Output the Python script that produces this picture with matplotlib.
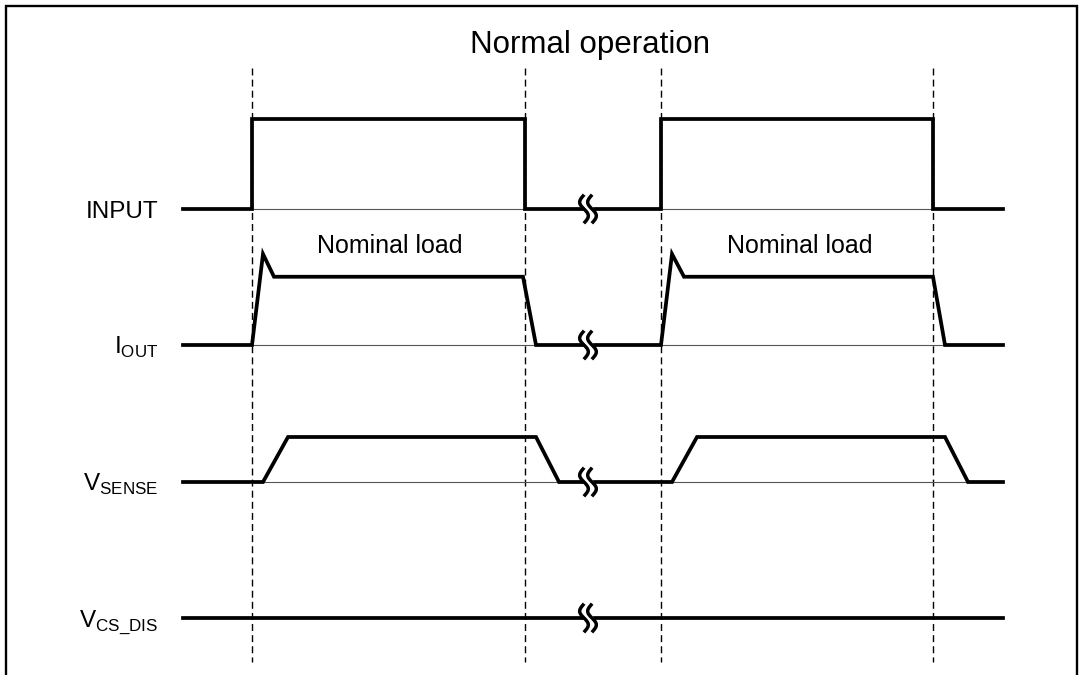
import matplotlib.pyplot as plt
import numpy as np

plt.rcParams['font.family'] = ['Liberation Sans', 'DejaVu Sans']
plt.rcParams['mathtext.fontset'] = 'custom'
plt.rcParams['mathtext.rm'] = 'Liberation Sans'

# signal names (drawn top to bottom) and their baseline positions
labels = [r'INPUT', r'$\mathrm{I}_{\mathrm{OUT}}$',
          r'$\mathrm{V}_{\mathrm{SENSE}}$', r'$\mathrm{V}_{\mathrm{CS\_DIS}}$']
baselines = [209, 345, 482, 618]

# waveforms: time breakpoints and relative level (0 = low, 1 = peak)
input_t = [183, 252, 252, 525, 525, 661, 661, 933, 933, 1003]
input_v = [0, 0, 1, 1, 0, 0, 1, 1, 0, 0]
input_amp = 90

iout_t = [183, 252, 263, 274, 523, 536, 661, 672, 684, 933, 945, 1003]
iout_v = [0, 0, 1, 0.75, 0.75, 0, 0, 1, 0.75, 0.75, 0, 0]
iout_amp = 91

vsense_t = [183, 263, 288, 536, 559, 672, 697, 945, 968, 1003]
vsense_v = [0, 0, 1, 1, 0, 0, 1, 1, 0, 0]
vsense_amp = 45

vcs_t = [183, 1003]
vcs_v = [0, 0]
vcs_amp = 0

# pulse intervals (thin reference line under each pulse)
input_pulses = [(252, 525), (661, 933)]
iout_pulses = [(252, 536), (661, 945)]
vsense_pulses = [(263, 559), (672, 968)]

# timing markers and break position
markers = [252, 525, 661, 933]
break_x = 588

title = 'Normal operation'
load_text = 'Nominal load'
load_x = [390, 800]

fig = plt.figure(figsize=(10.8, 6.75), dpi=100)
ax = fig.add_axes([0, 0, 1, 1])
ax.set_xlim(0, 1080)
ax.set_ylim(675, 0)
ax.axis('off')

# outer frame
ax.plot([6, 6, 1077, 1077], [675, 6, 6, 675], color='black', lw=1.7,
        solid_joinstyle='miter', clip_on=False)

# dashed timing markers
for x in markers:
    ax.plot([x, x], [68, 662], color='black', lw=1.0, ls=(0, (5, 3)))

signals = [(input_t, input_v, input_amp, input_pulses),
           (iout_t, iout_v, iout_amp, iout_pulses),
           (vsense_t, vsense_v, vsense_amp, vsense_pulses),
           (vcs_t, vcs_v, vcs_amp, [])]

for (t, v, amp, pulses), y0, lab in zip(signals, baselines, labels):
    for a, b in pulses:
        ax.plot([a, b], [y0, y0], color='#555555', lw=0.8, zorder=2)
    ys = [y0 - amp * val for val in v]
    ax.plot(t, ys, color='black', lw=2.7, solid_joinstyle='miter', zorder=3)
    ax.text(158, y0 + 9, lab, ha='right', va='baseline', fontsize=17.5)

    # break symbol
    ax.fill_between([break_x - 4, break_x + 4], y0 - 3, y0 + 3,
                    color='white', zorder=4)
    s = np.linspace(0, 1, 40)
    for dx in (-4, 4):
        xs = break_x + dx - 3.8 * np.sin(2 * np.pi * s) + (s - 0.5) * 2
        yy = y0 - 13 + 26 * s
        ax.plot(xs, yy, color='black', lw=2.5, zorder=5)

ax.text(590, 53, title, ha='center', va='baseline', fontsize=22.5)
for x in load_x:
    ax.text(x, 253, load_text, ha='center', va='baseline', fontsize=18)

plt.savefig('out.png', dpi=100)
plt.close()
